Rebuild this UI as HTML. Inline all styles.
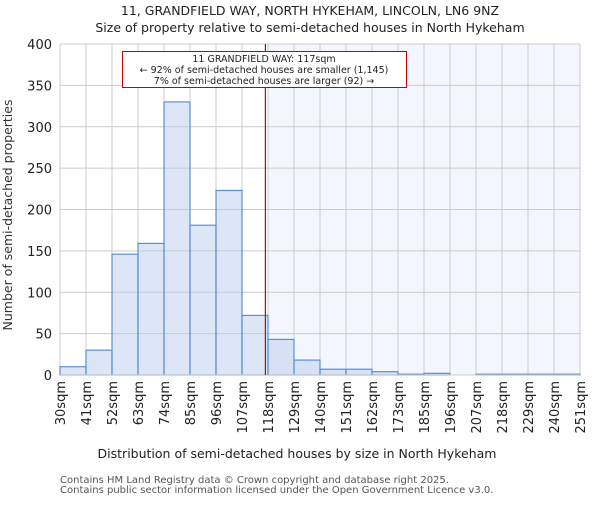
<!DOCTYPE html>
<html><head><meta charset="utf-8"><style>
body{margin:0;background:#fff}
svg text{font-family:"DejaVu Sans","Liberation Sans",sans-serif;fill:#222}
</style></head><body>
<svg id="c" width="600" height="500" xmlns="http://www.w3.org/2000/svg">
<text x="310" y="15" text-anchor="middle" font-size="12.5">11, GRANDFIELD WAY, NORTH HYKEHAM, LINCOLN, LN6 9NZ</text>
<text x="310" y="32" text-anchor="middle" font-size="12.5">Size of property relative to semi-detached houses in North Hykeham</text>
<rect x="268" y="44" width="312" height="331" fill="#f3f6fd"/>
<g id="grid"></g>
<g id="bars"></g>
<line x1="60" y1="375" x2="580" y2="375" stroke="#ccc"/>
<line id="marker" y1="44" y2="375" stroke="#c00" stroke-width="1.2"/>
<g id="ticks"></g>
<text transform="rotate(-90 12 215)" x="12" y="215" text-anchor="middle" font-size="12.5" style="fill:#333">Number of semi-detached properties</text>
<text x="297" y="458" text-anchor="middle" font-size="12.5">Distribution of semi-detached houses by size in North Hykeham</text>
<rect x="122.5" y="51.5" width="284" height="36" fill="#fff" stroke="#c00"/>
<text x="264" y="62" text-anchor="middle" font-size="9.5">11 GRANDFIELD WAY: 117sqm</text>
<text x="264" y="73" text-anchor="middle" font-size="9.5">← 92% of semi-detached houses are smaller (1,145)</text>
<text x="264" y="84" text-anchor="middle" font-size="9.5">7% of semi-detached houses are larger (92) →</text>
<text x="60" y="483" font-size="10" style="fill:#555">Contains HM Land Registry data © Crown copyright and database right 2025.</text>
<text x="60" y="493" font-size="10" style="fill:#555">Contains public sector information licensed under the Open Government Licence v3.0.</text>
</svg>
<script>
const edgeLabels=["30sqm","41sqm","52sqm","63sqm","74sqm","85sqm","96sqm","107sqm","118sqm","129sqm","140sqm","151sqm","162sqm","173sqm","185sqm","196sqm","207sqm","218sqm","229sqm","240sqm","251sqm"];
const counts=[10,30,146,159,330,181,223,72,43,18,7,7,4,1,2,0,1,1,1,1];
const yTicks=[0,50,100,150,200,250,300,350,400];
const propertyBinPos=7.9;
const NS="http://www.w3.org/2000/svg";
const x0=60,x1=580,yb=375,yt=44,ymax=400;
const bw=(x1-x0)/counts.length;
const xs=i=>x0+i*bw;
const ys=v=>yb-v/ymax*(yb-yt);
function mk(t,a,p){const e=document.createElementNS(NS,t);for(const k in a)e.setAttribute(k,a[k]);p.appendChild(e);return e;}
const grid=document.getElementById('grid'),bars=document.getElementById('bars'),ticks=document.getElementById('ticks');
yTicks.forEach(v=>{
 const l=mk('line',{x1:x0,x2:x1,y1:ys(v),y2:ys(v),stroke:'#ccc'},grid);
 
 
 const t=mk('text',{x:x0-8,y:ys(v)+5,'text-anchor':'end','font-size':'13'},ticks);
 t.textContent=v;
 
 
});
edgeLabels.forEach((s,i)=>{
 const l=mk('line',{x1:xs(i),x2:xs(i),y1:yt,y2:yb,stroke:'#ccc'},grid);
 
 
 const tx=xs(i)+5, ty=381;
 const t=mk('text',{x:tx,y:ty,'text-anchor':'end','font-size':'13'},ticks);
 t.setAttribute('transform','rotate(-90 '+tx+' '+ty+')');
 t.textContent=s;
 
 
});
counts.forEach((v,i)=>{
 if(v<=0)return;
 const r=mk('rect',{x:xs(i),y:ys(v),width:bw,height:yb-ys(v),fill:'rgba(180,200,235,0.45)',stroke:'#5b8fd6','stroke-width':'1.2'},bars);
 
 
});
const m=document.getElementById('marker');
m.setAttribute('x1',xs(propertyBinPos));m.setAttribute('x2',xs(propertyBinPos));
</script>
</body></html>
